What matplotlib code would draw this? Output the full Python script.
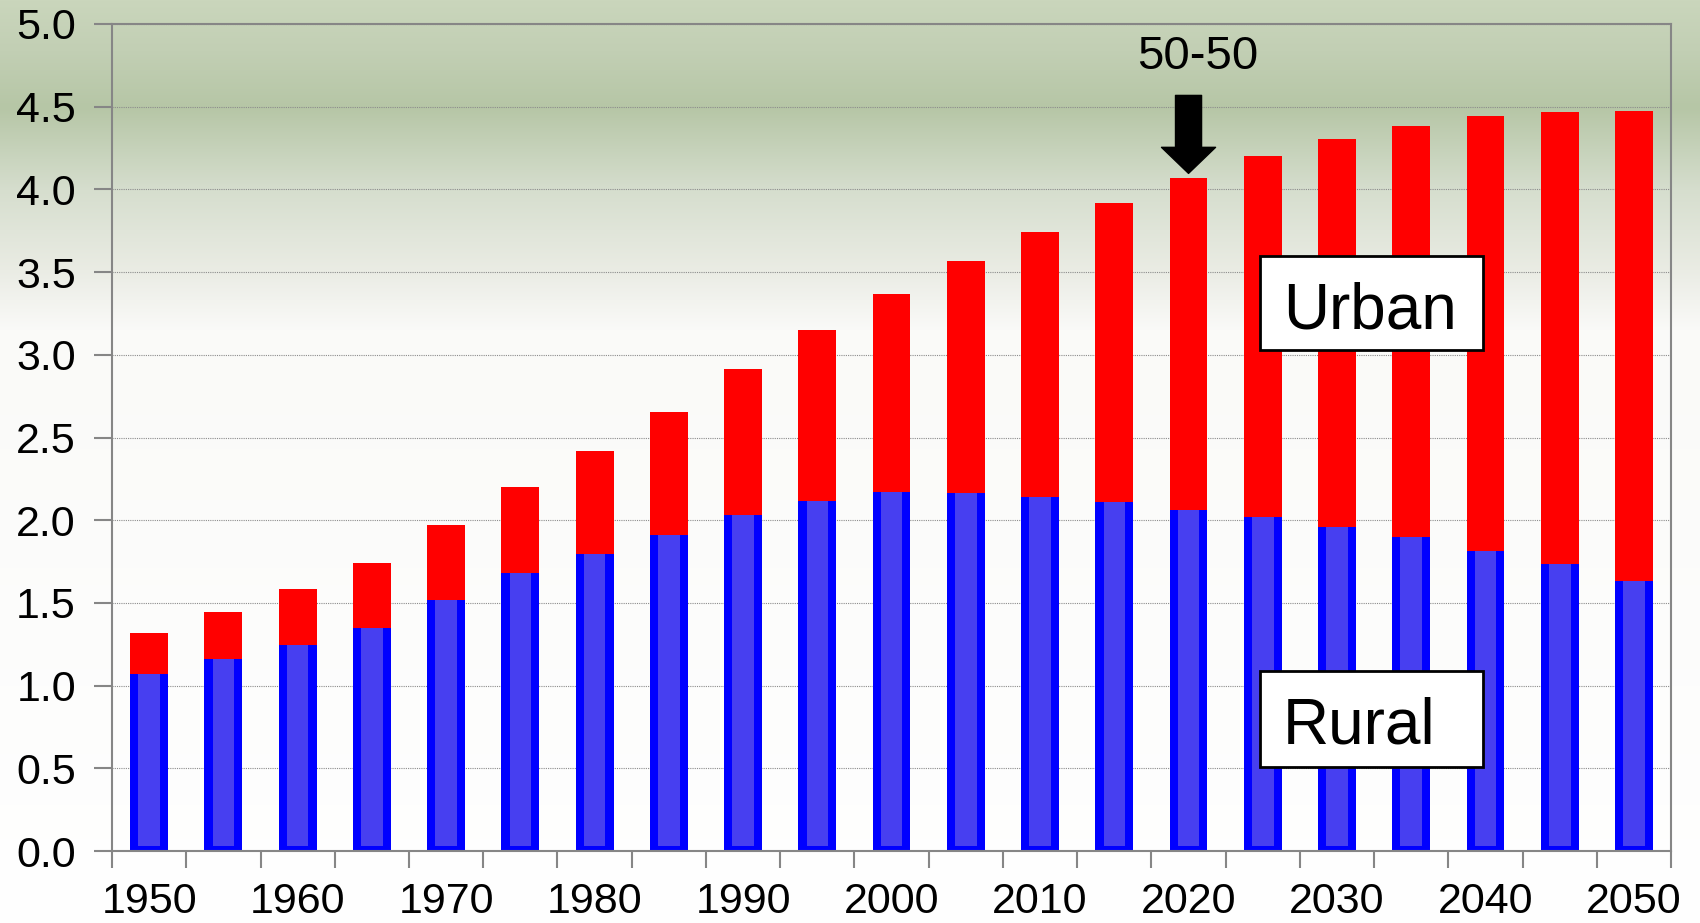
import matplotlib
matplotlib.use('Agg')
import matplotlib.pyplot as plt
from matplotlib.patches import Rectangle
import numpy as np

plt.rcParams['font.family'] = ['Liberation Sans', 'DejaVu Sans']

years = list(range(1950, 2051, 5))
total = [1.317, 1.448, 1.586, 1.743, 1.972, 2.202, 2.418, 2.654, 2.916, 3.152, 3.368,
         3.565, 3.742, 3.919, 4.069, 4.200, 4.305, 4.384, 4.443, 4.469, 4.476]
rural = [1.068, 1.160, 1.245, 1.350, 1.520, 1.678, 1.796, 1.913, 2.031, 2.117, 2.169,
         2.163, 2.143, 2.110, 2.064, 2.018, 1.959, 1.900, 1.815, 1.737, 1.632]
urban = [t - r for t, r in zip(total, rural)]
tick_labels = [str(y) if y % 10 == 0 else '' for y in years]

fig = plt.figure(figsize=(17, 9.23), dpi=100)

# background gradient (green band at top fading to white)
bg = fig.add_axes([0, 0, 1, 1], zorder=-10)
ypix = np.arange(923)
stops = [0, 50, 107, 190, 270, 330, 923]
r = np.interp(ypix, stops, [0xca, 0xc2, 0xb6, 0xd6, 0xea, 0xfa, 0xff])
g = np.interp(ypix, stops, [0xd6, 0xcf, 0xc6, 0xde, 0xec, 0xfa, 0xff])
b = np.interp(ypix, stops, [0xbc, 0xb4, 0xa6, 0xce, 0xe4, 0xf8, 0xff])
grad = np.stack([r, g, b], axis=1)[:, None, :] / 255.0
bg.imshow(np.repeat(grad, 4, axis=1), aspect='auto', extent=[0, 1, 0, 1])
bg.axis('off')

ax = fig.add_axes([0.0659, 0.078, 0.9171, 0.896])
ax.set_facecolor('none')
x = np.arange(len(years))
w = 0.51

ax.bar(x, rural, width=w, color='#0000ff', zorder=3)
ax.bar(x, [v - 0.03 for v in rural], bottom=0.03, width=0.29, color='#473ff0', zorder=3)
ax.bar(x, urban, bottom=rural, width=w, color='#ff0000', zorder=4)

ax.set_xlim(-0.5, len(years) - 0.5)
ax.set_ylim(0, 5)
ax.set_yticks(np.arange(0, 5.01, 0.5))
ax.set_yticklabels([f'{v:.1f}' for v in np.arange(0, 5.01, 0.5)], fontsize=31)
ax.set_xticks(x)
ax.set_xticklabels(tick_labels, fontsize=31)
ax.set_xticks(np.arange(-0.5, len(years), 1), minor=True)
ax.tick_params(axis='x', which='major', length=0, pad=22)
ax.tick_params(axis='x', which='minor', length=12, width=1.5, color='#868686', direction='out')
ax.tick_params(axis='y', length=13, width=1.5, color='#868686', pad=13)
ax.yaxis.grid(True, color='#8c8c8c', linestyle=(0, (1, 1)), linewidth=0.8)
ax.set_axisbelow(True)
for s in ax.spines.values():
    s.set_color('#868686')
    s.set_linewidth(1.5)
    s.set_zorder(6)

# 50-50 marker
i50 = years.index(2020)
ax.text(i50 + 0.12, 4.80, '50-50', fontsize=34, ha='center', va='center', zorder=7)
ax.annotate('', xy=(i50, 4.08), xytext=(i50, 4.585),
            arrowprops=dict(arrowstyle='simple,head_width=1.39,head_length=0.67,tail_width=0.67',
                            fc='black', ec='black', mutation_scale=28), zorder=7)

# labels in boxes
for y0, y1, ybase, label in [(3.03, 3.60, 3.16, 'Urban'), (0.51, 1.09, 0.65, 'Rural')]:
    ax.add_patch(Rectangle((14.96, y0), 3.01, y1 - y0, facecolor='white',
                           edgecolor='black', linewidth=2, zorder=8))
    ax.text(15.27, ybase, label, fontsize=46, ha='left', va='baseline', zorder=9)

fig.savefig('out.png', dpi=100)
